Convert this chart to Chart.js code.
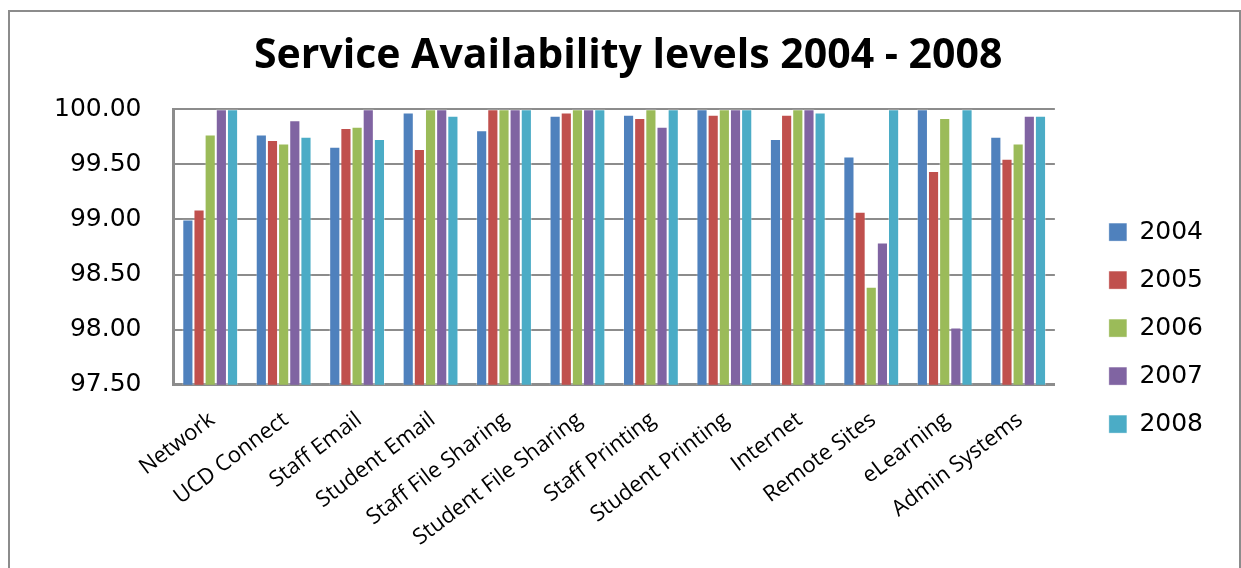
<!DOCTYPE html>
<html>
<head>
<meta charset="utf-8">
<script src="https://cdn.jsdelivr.net/npm/chart.js@4"></script>
<style>
  html, body { margin: 0; padding: 0; background: #fff; overflow: hidden; }
  #wrap { position: relative; width: 1241px; height: 568px; }
  #frame { position: absolute; left: 8px; top: 10px; width: 1229px; height: 620px; border: 2px solid #8c8c8c; pointer-events: none; }
</style>
</head>
<body>
<div id="wrap">
  <canvas id="availChart" width="1241" height="568"></canvas>
  <div id="frame"></div>
</div>
<script>
const services = ['Network', 'UCD Connect', 'Staff Email', 'Student Email', 'Staff File Sharing', 'Student File Sharing',
  'Staff Printing', 'Student Printing', 'Internet', 'Remote Sites', 'eLearning', 'Admin Systems'];
const years = ['2004', '2005', '2006', '2007', '2008'];
const avail2004 = [99.00, 99.77, 99.66, 99.97, 99.81, 99.94, 99.95, 100.00, 99.73, 99.57, 100.00, 99.75];
const avail2005 = [99.09, 99.72, 99.83, 99.64, 100.00, 99.97, 99.92, 99.95, 99.95, 99.07, 99.44, 99.55];
const avail2006 = [99.77, 99.69, 99.84, 100.00, 100.00, 100.00, 100.00, 100.00, 100.00, 98.39, 99.92, 99.69];
const avail2007 = [100.00, 99.90, 100.00, 100.00, 100.00, 100.00, 99.84, 100.00, 100.00, 98.79, 98.02, 99.94];
const avail2008 = [100.00, 99.75, 99.73, 99.94, 100.00, 100.00, 100.00, 100.00, 99.97, 100.00, 100.00, 99.94];
const yTicks = [97.5, 98.0, 98.5, 99.0, 99.5, 100.0];

const colors = ['#4F81BD', '#C0504D', '#9BBB59', '#8064A2', '#4BACC6'];
const series = [avail2004, avail2005, avail2006, avail2007, avail2008];

const ctx = document.getElementById('availChart').getContext('2d');
const availChart = new Chart(ctx, {
    type: 'bar',
    data: {
        labels: services,
        datasets: series.map((vals, i) => ({
            label: years[i],
            data: vals,
            backgroundColor: colors[i],
            borderColor: 'rgba(255,255,255,0.35)',
            borderWidth: 1,
            categoryPercentage: 0.76,
            barPercentage: 1.0
        }))
    },
    options: {
        responsive: false,
        animation: false,
        layout: {
            padding: { left: 22, right: 28, top: 0, bottom: 3 }
        },
        plugins: {
            title: {
                display: true,
                // two leading spaces nudge the title right to where the original sits
                text: '  Service Availability levels 2004 - 2008',
                color: '#000',
                font: { family: 'Open Sans', size: 41, weight: 'bold' },
                padding: { top: 32, bottom: 28 }
            },
            legend: {
                position: 'right',
                title: { display: true, text: ' ', font: { size: 1 }, padding: { top: 45, bottom: 45 } },
                labels: {
                    color: '#000',
                    font: { family: 'DejaVu Sans', size: 25 },
                    boxWidth: 18,
                    boxHeight: 18,
                    padding: 23
                }
            },
            tooltip: { enabled: false }
        },
        scales: {
            y: {
                min: 97.5,
                max: 100,
                afterBuildTicks: axis => { axis.ticks = yTicks.map(v => ({ value: v })); },
                ticks: {
                    color: '#000',
                    font: { family: 'DejaVu Sans', size: 25 },
                    padding: 32,
                    callback: v => Number(v).toFixed(2)
                },
                grid: { color: '#8c8c8c', lineWidth: 2, drawTicks: false },
                border: { color: '#8c8c8c', width: 3 }
            },
            gap: {
                position: 'right',
                display: true,
                grid: { display: false },
                ticks: { display: false },
                border: { display: false },
                afterFit: s => { s.width = 31; }
            },
            x: {
                ticks: {
                    color: '#000',
                    font: { family: 'Open Sans', size: 22 },
                    minRotation: 37,
                    maxRotation: 37,
                    autoSkip: false,
                    padding: 14,
                    labelOffset: 2
                },
                grid: { display: false },
                border: { color: '#8c8c8c', width: 3 },
                afterFit: s => { s.paddingLeft = 0; s.paddingRight = 0; }
            }
        }
    }
});
</script>
</body>
</html>
